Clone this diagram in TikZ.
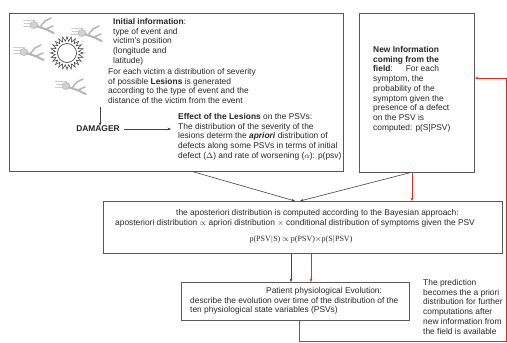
\documentclass[tikz,border=0pt]{standalone}
\usepackage{fontspec}
\setmainfont{Liberation Sans}
\newfontfamily\serifface{Liberation Serif}
\usetikzlibrary{shapes.geometric, arrows.meta, calc}

\definecolor{flowred}{RGB}{222,45,35}

\tikzset{
  victim/.pic={
    % motion streaks
    \draw[gray!40, line width=0.6pt] (-17,-5) -- (-5,-5) (-16,-2) -- (-4,-2) (-17,1) -- (-7,1);
    % head
    \fill[gray!35] (-6,0) ellipse (4 and 3.5);
    \draw[gray!60, line width=0.5pt] (-6,0) ellipse (4 and 3.5);
    % body and limbs
    \draw[gray!55, line width=1.6pt, line cap=round]
      (-3,1) -- (6,4) -- (13,1)
      (6,4) -- (14,8)
      (0,2) -- (5,-4) -- (11,-7);
    \draw[gray!75, line width=0.4pt] (-3,2) -- (6,5) -- (14,9);
  }
}

\begin{document}
\begin{tikzpicture}[x=1pt, y=-1pt,
  box/.style={draw=black!65, line width=0.7pt, rectangle, inner sep=0pt, anchor=north west},
  txt/.style={anchor=north west, inner sep=0pt, align=left,
              font=\fontsize{8.4}{9.75}\selectfont, text=black!85},
  line1/.style={anchor=west, inner sep=0pt, font=\fontsize{8.4}{9.75}\selectfont, text=black!85},
  blk/.style={draw=black!75, line width=0.6pt, -{Stealth[length=3.5pt,width=2.8pt]}},
  redarr/.style={draw=flowred, line width=0.8pt, -{Stealth[length=3.5pt,width=2.8pt]}},
]
\useasboundingbox (0,0) rectangle (507,343);

% ---- boxes ----
\node[box, minimum width=334pt, minimum height=158pt] (init) at (9,13) {};
\node[box, minimum width=115pt, minimum height=159pt] (field) at (359,13) {};
\node[box, minimum width=399pt, minimum height=52pt] (bayes) at (103,201) {};
\node[box, minimum width=228pt, minimum height=38pt] (patient) at (181,282) {};

% ---- event illustration ----
\pic at (40,25) {victim};
\pic at (88,33) {victim};
\pic at (30,52) {victim};
\pic at (72,86) {victim};
\node[star, star points=24, star point ratio=1.4, minimum size=33pt,
      draw=black!80, line width=0.5pt, inner sep=0pt, fill=white] (sun) at (67,53) {};
\node[circle, draw=black!80, line width=0.6pt, minimum size=19pt, inner sep=0pt] (core) at (sun.center) {};

% ---- texts in the initial box ----
\node[txt] (initinfo) at (113,18) {\textbf{Initial information}:\\
  type of event and\\ victim's position\\ (longitude and\\ latitude)};
\node[txt] (lesions) at (108,68) {For each victim a distribution of severity\\
  of possible \textbf{Lesions} is generated\\
  according to the type of event and the\\
  distance of the victim from the event};
\node[font=\fontsize{8.4}{9}\selectfont\bfseries, inner sep=0pt, text=black!85] (dmg) at (98,129) {DAMAGER};
\node[txt] (effect) at (178,113) {\textbf{Effect of the Lesions} on the PSVs:\\
  The distribution of the severity of the\\
  lesions determ the \textbf{\textit{apriori}} distribution of\\
  defects along some PSVs in terms of initial\\
  defect ($\Delta$) and rate of worsening ($\alpha$): p(psv)};
\coordinate (lestail) at (100,107);
\coordinate (effin) at (171,129);
\draw[blk] (lestail) -- (lestail |- dmg.north);
\draw[blk] ([xshift=4pt]dmg.east) -- (effin);

% ---- field information ----
\node[txt] (fieldtxt) at (373,46) {\textbf{New Information}\\
  \textbf{coming from the}\\
  \textbf{field}:\hspace{13pt}For each\\
  symptom, the\\ probability of the\\ symptom given the\\
  presence of a defect\\ on the PSV is\\ computed: p(S|PSV)};

% ---- Bayesian update ----
\node[line1] (bay1) at (176,213) {the aposteriori distribution is computed according to the Bayesian approach:};
\node[line1] (bay2) at (115,223) {aposteriori distribution {\footnotesize$\propto$} apriori distribution {\footnotesize$\times$} conditional distribution of symptoms given the PSV};
\node[inner sep=0pt, font=\serifface\fontsize{8}{9}\selectfont, text=black!85] (bay3) at (301,239)
  {p(PSV$\vert$S) $\propto$ p(PSV)$\times$p(S$\vert$PSV)};

% ---- evolution ----
\node[txt] (evo) at (190,287) {\hspace*{76pt}Patient physiological Evolution:\\
  describe the evolution over time of the distribution of the\\
  ten physiological state variables (PSVs)};
\node[txt] (pred) at (423,279) {The prediction\\ becomes the a priori\\
  distribution for further\\ computations after\\
  new information from\\ the field is available};

% ---- connectors ----
\draw[blk] ($(init.south west)+(184,0)$) -- ($(bayes.north west)+(192,0)$);
\draw[blk] ($(field.south west)+(51,0)$) -- ($(bayes.north west)+(197,0)$);
\draw[redarr] ($(field.south west)+(53,0)$) -- ($(bayes.north west)+(309,0)$);
\draw[blk] ($(bayes.south west)+(188,0)$) -- ($(patient.north west)+(110,0)$);
\draw[redarr] ($(bayes.south west)+(208,0)$) -- ($(patient.north west)+(130,0)$);

% feedback loop: prediction becomes the new prior
\coordinate (loopbr) at (506,341);
\coordinate (looptr) at (506,78);
\draw[redarr] ($(patient.south west)+(118,0)$) |- (loopbr) -- (looptr) -- (field.east |- looptr);
\end{tikzpicture}
\end{document}
